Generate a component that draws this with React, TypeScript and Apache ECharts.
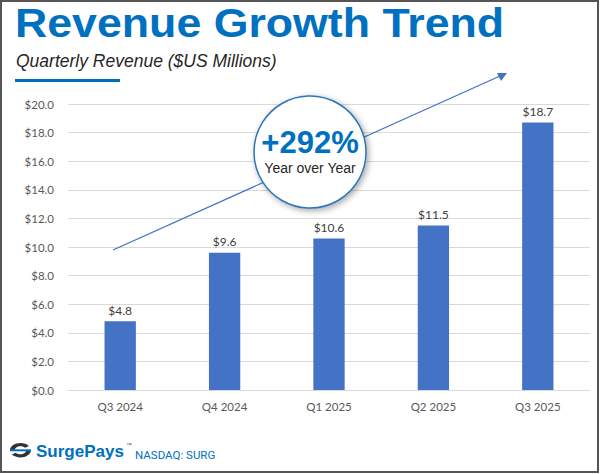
import React, { useEffect, useRef } from "react";
import * as echarts from "echarts";

const categories = ["Q3 2024", "Q4 2024", "Q1 2025", "Q2 2025", "Q3 2025"];
const revenue = [4.8, 9.6, 10.6, 11.5, 18.7];
const yTicks = { min: 0, max: 20, interval: 2 };
const growthLabel = "+292%";
const growthSub = "Year over Year";

const BLUE = "#0070C0";
const BAR = "#4472C4";

echarts.graphic.registerShape(
  "surgeS",
  echarts.graphic.extendPath(
    "M20 4 C18 1.5 14.5 0 11 0 C5 0 0 4.5 0 10 L5 10 C5 7 7.5 4.5 11 4.5 C13 4.5 14.8 5.3 16 6.6 Z M2 16 C4 18.5 7.5 20 11 20 C17 20 22 15.5 22 10 L17 10 C17 13 14.5 15.5 11 15.5 C9 15.5 7.2 14.7 6 13.4 Z",
    {}
  )
);

export default function App() {
  const ref = useRef<HTMLDivElement>(null);
  useEffect(() => {
    document.body.style.margin = "0";
    const chart = echarts.init(ref.current!, null, { renderer: "svg" });
    chart.setOption({
      animation: false,
      backgroundColor: "#ffffff",
      grid: { left: 68, right: 10, top: 104, bottom: 84 },
      xAxis: {
        type: "category",
        data: categories,
        axisTick: { show: false },
        axisLine: { lineStyle: { color: "#D9D9D9" } },
        axisLabel: { color: "#595959", fontSize: 11.5, margin: 10, fontFamily: "Lato" },
      },
      yAxis: {
        type: "value",
        min: yTicks.min,
        max: yTicks.max,
        interval: yTicks.interval,
        axisLine: { show: false },
        axisTick: { show: false },
        splitLine: { lineStyle: { color: "#D9D9D9" } },
        axisLabel: {
          color: "#595959",
          fontSize: 11.5,
          margin: 14,
          fontFamily: "Lato",
          formatter: (v: number) => "$" + v.toFixed(1),
        },
      },
      series: [
        {
          type: "bar",
          data: revenue,
          barWidth: "30%",
          itemStyle: { color: BAR },
          label: {
            show: true,
            position: "top",
            distance: 5,
            color: "#404040",
            fontSize: 12,
            fontFamily: "Lato",
            formatter: (p: any) => "$" + p.value.toFixed(1),
          },
        },
      ],
      graphic: [
        { type: "rect", shape: { x: 1, y: 1, width: 597, height: 471 }, style: { fill: "none", stroke: "#555555", lineWidth: 2 }, z: 100 },
        { type: "text", x: 15, y: 2, scaleX: 1.09, style: { text: "Revenue Growth Trend", fill: BLUE, font: "bold 41px 'Liberation Sans', Arial, sans-serif" } },
        { type: "text", x: 16, y: 52, style: { text: "Quarterly Revenue ($US Millions)", fill: "#262626", font: "italic 17.5px 'Liberation Sans', Arial, sans-serif" } },
        { type: "rect", shape: { x: 15, y: 79, width: 105, height: 3 }, style: { fill: BLUE } },
        { type: "line", shape: { x1: 113, y1: 250, x2: 500, y2: 76 }, style: { stroke: BAR, lineWidth: 1.3 }, z: 10 },
        { type: "polygon", shape: { points: [[507, 73], [497, 73], [501, 81]] }, style: { fill: BAR }, z: 10 },
        {
          type: "circle",
          shape: { cx: 310, cy: 152, r: 56 },
          style: { fill: "#ffffff", stroke: "#2E75B6", lineWidth: 1.5, shadowBlur: 6, shadowColor: "rgba(0,0,0,0.35)", shadowOffsetX: 2, shadowOffsetY: 2 },
          z: 20,
        },
        { type: "text", x: 310, y: 142, style: { text: growthLabel, fill: BLUE, font: "bold 31px 'Liberation Sans', Arial, sans-serif", align: "center", verticalAlign: "middle" }, z: 21 },
        { type: "text", x: 310, y: 168, style: { text: growthSub, fill: "#262626", font: "14px 'Liberation Sans', Arial, sans-serif", align: "center", verticalAlign: "middle" }, z: 21 },
        { type: "surgeS", x: 10, y: 443, scaleX: 0.95, scaleY: 0.72, style: { fill: "#333333" } },
        { type: "rect", shape: { x: 10, y: 449.3, width: 21, height: 2 }, style: { fill: BLUE } },
        { type: "text", x: 36, y: 451, style: { text: "SurgePays", fill: BLUE, font: "bold 17px 'Liberation Sans', Arial, sans-serif", verticalAlign: "middle" } },
        { type: "text", x: 126, y: 445, style: { text: "™", fill: "#555555", font: "6px 'Liberation Sans', Arial, sans-serif", verticalAlign: "middle" } },
        { type: "text", x: 135, y: 455, style: { text: "NASDAQ: SURG", fill: BLUE, font: "11.5px Roboto, sans-serif", verticalAlign: "middle" } },
      ],
    });
    return () => chart.dispose();
  }, []);
  return <div ref={ref} style={{ width: 600, height: 474 }} />;
}
